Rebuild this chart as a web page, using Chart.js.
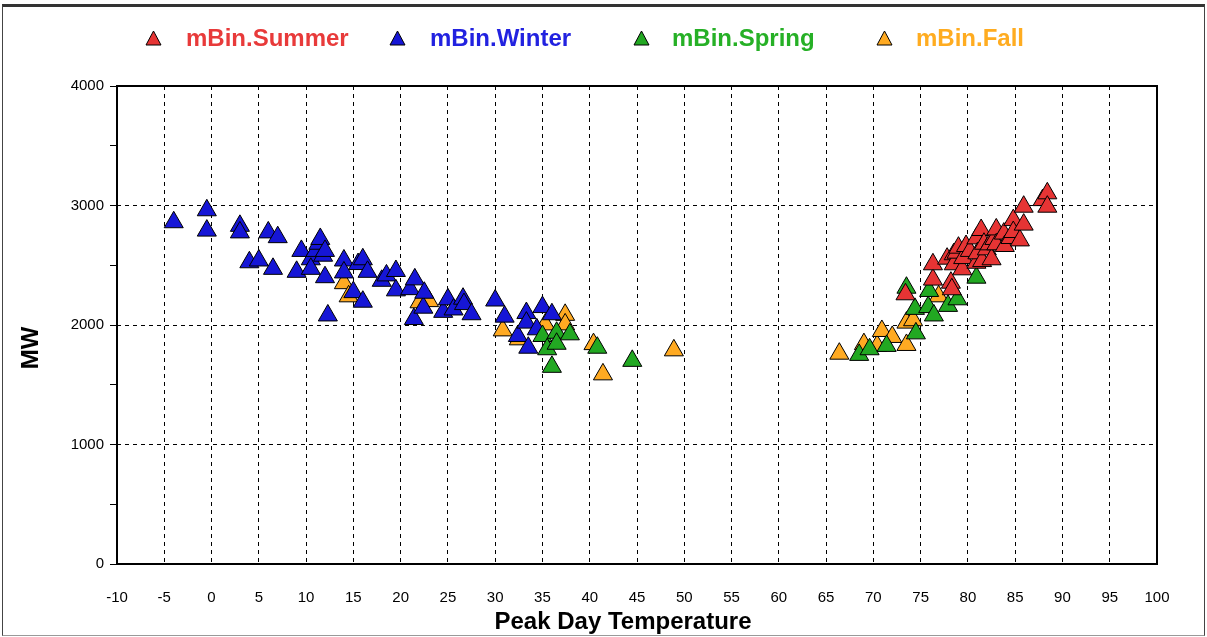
<!DOCTYPE html>
<html>
<head>
<meta charset="utf-8">
<script src="https://cdn.jsdelivr.net/npm/chart.js@4.4.1/dist/chart.umd.min.js"></script>
<style>
  html, body { margin: 0; padding: 0; background: #fff; }
  #wrap { position: relative; width: 1207px; height: 637px; overflow: hidden; font-family: "Liberation Sans", Arial, sans-serif; }
  #chart { position: absolute; left: 0; top: 0; }
  #frame { position: absolute; left: 2px; top: 4px; width: 1201px; height: 628px;
    border-top: 3px solid #333; border-left: 1px solid #444; border-right: 1px solid #444; border-bottom: 1px solid #999; }
  .legend-item { position: absolute; top: 25px; height: 26px; display: flex; align-items: center; }
  .legend-item svg { position: absolute; top: 5px; }
  .legend-item span { position: absolute; font-weight: bold; font-size: 24px; line-height: 26px; white-space: nowrap; }
  .axis-title { position: absolute; font-weight: bold; font-size: 24px; line-height: 26px; color: #000; white-space: nowrap; }
</style>
</head>
<body>
<div id="wrap">
  <canvas id="chart" width="1207" height="637"></canvas>
  <div id="frame"></div>
  <div id="legend"></div>
  <div class="axis-title" id="xTitle" style="left:623px; top:608px; transform:translateX(-50%);">Peak Day Temperature</div>
  <div class="axis-title" id="yTitle" style="left:30px; top:348px; transform:translate(-50%,-50%) rotate(-90deg);">MW</div>
</div>
<script>
// Series names, legend order
const seriesNames = ['mBin.Summer', 'mBin.Winter', 'mBin.Spring', 'mBin.Fall'];
const seriesColors = ['#e63434', '#1616d6', '#22a822', '#ffaa22'];
const legendTextColors = ['#e83a3a', '#2222e0', '#26b026', '#ffac20'];

// Peak day temperature (x) and MW (y) per bin
const summerTemp = [73.4, 76.3, 76.3, 77.8, 78.2, 78.3, 78.5, 78.5, 78.8, 79, 79.4, 79.5, 79.8, 80.2, 80.9, 80.9, 81, 81.4, 81.5, 81.7, 82, 82.3, 82.5, 82.8, 83, 83, 83.8, 83.9, 84.5, 84.8, 84.8, 85.5, 85.9, 85.9, 87.9, 88.4, 88.4];
const summerMW   = [2257, 2380, 2508, 2555, 2354, 2299, 2592, 2508, 2605, 2647, 2466, 2560, 2661, 2620, 2521, 2725, 2600, 2795, 2535, 2680, 2633, 2675, 2550, 2720, 2800, 2675, 2765, 2661, 2728, 2878, 2778, 2708, 2840, 2990, 3045, 3102, 2990];

const winterTemp = [-4, -0.5, -0.5, 3, 3, 4, 5, 6, 6.5, 7, 9, 9.5, 10.5, 10.5, 11, 11.3, 11.5, 11.8, 12, 12, 12.3, 14, 14, 15, 15.5, 16, 16, 16.5, 18, 18.5, 19.5, 19.5, 21, 21.4, 21.5, 22.4, 22.5, 24.5, 25, 25.6, 26.6, 26.7, 27.5, 30, 31, 32.4, 33.3, 33.3, 33.5, 34.4, 35, 36];
const winterMW   = [2860, 2960, 2790, 2830, 2775, 2525, 2540, 2775, 2470, 2735, 2445, 2620, 2550, 2470, 2620, 2680, 2720, 2580, 2620, 2400, 2080, 2540, 2440, 2275, 2510, 2550, 2195, 2445, 2370, 2415, 2452, 2290, 2300, 2050, 2382, 2145, 2270, 2110, 2215, 2130, 2220, 2175, 2090, 2205, 2070, 1908, 2100, 2020, 1810, 1964, 2150, 2090];

const springTemp = [35, 35.5, 36, 36.5, 36.5, 37.9, 40.8, 44.5, 68.5, 69.6, 71.4, 73.5, 74.4, 74.5, 75.8, 75.9, 76.4, 77.9, 78.9, 80.9];
const springMW   = [1908, 1797, 1650, 1935, 1843, 1922, 1810, 1700, 1750, 1797, 1825, 2312, 2135, 1930, 2150, 2285, 2080, 2160, 2215, 2396];

const fallTemp = [14, 14.5, 22, 23, 30.8, 32.5, 35.3, 37.4, 37.4, 40.4, 41.4, 48.9, 66.4, 69, 70.4, 70.9, 72, 73.5, 73.5, 74.2, 76.9];
const fallMW   = [2350, 2240, 2190, 2200, 1955, 1880, 2005, 2085, 2005, 1840, 1587, 1788, 1760, 1840, 1825, 1950, 1900, 1833, 2020, 2040, 2240];

// Axis ranges
const xMin = -10, xMax = 100, xStep = 5;
const yMin = 0, yMax = 4000, yStep = 500, yLabelStep = 1000;

const toPoints = (xs, ys) => xs.map((x, i) => ({ x, y: ys[i] }));
const seriesData = [
  toPoints(summerTemp, summerMW),
  toPoints(winterTemp, winterMW),
  toPoints(springTemp, springMW),
  toPoints(fallTemp, fallMW)
];
// fall at the bottom, summer on top
const drawOrder = [0, 2, 1, 3];

/**
 * HTML legend
 */
function renderLegend() {
  const legend = document.getElementById('legend');
  const triX = [153, 397, 641, 884];
  const textX = [186, 430, 672, 916];
  legend.innerHTML = seriesNames.map((name, i) => `
    <div class="legend-item" style="left:${triX[i] - 8}px">
      <svg width="17" height="16" style="left:0"><polygon points="8.5,1 16,15 1,15" fill="${seriesColors[i]}" stroke="#000" stroke-width="1"/></svg>
      <span style="left:${textX[i] - triX[i] + 8}px; color:${legendTextColors[i]}">${name}</span>
    </div>`).join('');
}

// plot box drawn over the grid, under the points
const plotBox = {
  id: 'plotBox',
  beforeDatasetsDraw(chart) {
    const { ctx, chartArea: a } = chart;
    ctx.save();
    ctx.strokeStyle = '#000';
    ctx.lineWidth = 2;
    ctx.strokeRect(a.left, a.top, a.right - a.left, a.bottom - a.top);
    ctx.restore();
  }
};

const tickFont = { family: '"Liberation Sans", Arial, sans-serif', size: 15 };

new Chart(document.getElementById('chart'), {
  type: 'scatter',
  data: {
    datasets: seriesNames.map((name, i) => ({
      label: name,
      data: seriesData[i],
      order: drawOrder[i],
      pointStyle: 'triangle',
      pointRadius: 11,
      pointHoverRadius: 11,
      backgroundColor: seriesColors[i],
      borderColor: '#000',
      borderWidth: 1
    }))
  },
  options: {
    responsive: false,
    animation: false,
    layout: { padding: { left: 0, top: 86, right: 50, bottom: 0 } },
    plugins: { legend: { display: false }, tooltip: { enabled: false } },
    scales: {
      x: {
        type: 'linear',
        min: xMin,
        max: xMax,
        afterFit: s => { s.height = 73; },
        border: { display: false, dash: [4, 4] },
        grid: {
          drawTicks: false,
          lineWidth: 1,
          color: ctx => (ctx.tick && ctx.tick.value > xMin && ctx.tick.value < xMax) ? '#000' : 'rgba(0,0,0,0)'
        },
        ticks: {
          stepSize: xStep,
          autoSkip: false,
          maxRotation: 0,
          padding: 25,
          color: '#000',
          font: tickFont
        }
      },
      y: {
        min: yMin,
        max: yMax,
        afterFit: s => { s.width = 117; },
        border: { display: false, dash: [4, 4] },
        grid: {
          drawTicks: true,
          tickLength: 7,
          tickColor: '#000',
          lineWidth: 1,
          color: ctx => {
            const v = ctx.tick ? ctx.tick.value : 0;
            return (v > yMin && v < yMax && v % yLabelStep === 0) ? '#000' : 'rgba(0,0,0,0)';
          }
        },
        ticks: {
          stepSize: yStep,
          autoSkip: false,
          padding: 6,
          color: '#000',
          font: tickFont,
          callback: v => (v % yLabelStep === 0 ? String(v) : '')
        }
      }
    }
  },
  plugins: [plotBox]
});

renderLegend();
</script>
</body>
</html>
